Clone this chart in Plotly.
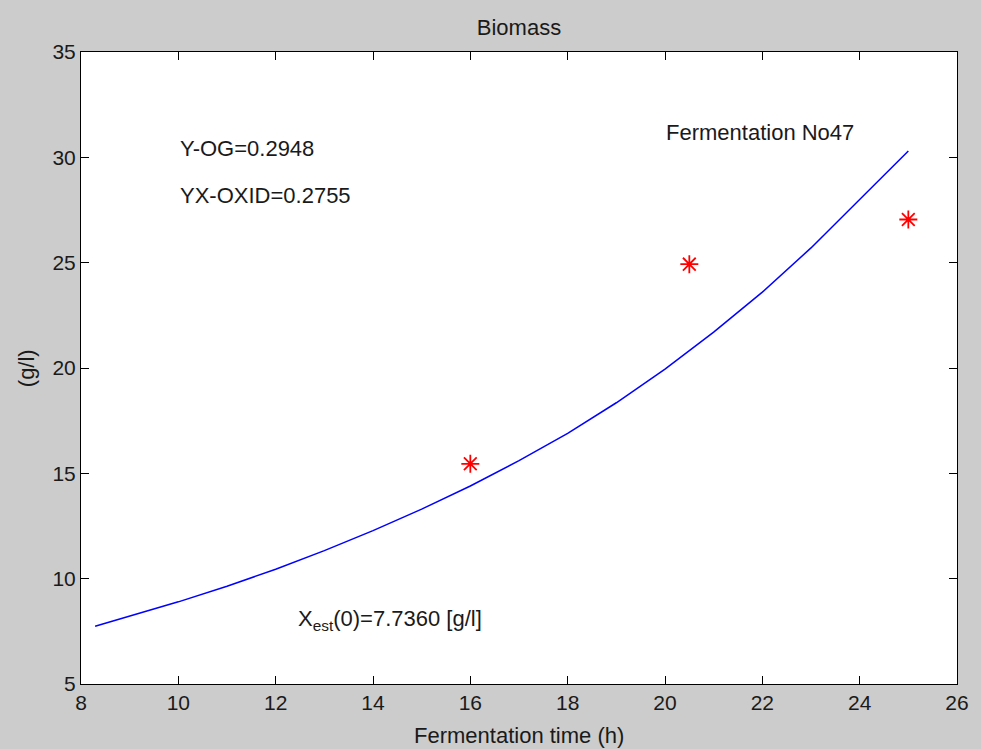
import plotly.graph_objects as go

# Fitted model curve
t_fit = [8.29, 9.0, 10.0, 11.0, 12.0, 13.0, 14.0, 15.0, 16.0, 17.0, 18.0, 19.0, 20.0, 21.0, 22.0, 23.0, 24.0, 25.0]
x_fit = [7.74, 8.22, 8.90, 9.64, 10.45, 11.33, 12.28, 13.30, 14.40, 15.60, 16.90, 18.35, 19.95, 21.70, 23.60, 25.70, 28.00, 30.3]

# Measured biomass
t_meas = [16.0, 20.5, 25.0]
x_meas = [15.45, 24.93, 27.05]

x_ticks = [8, 10, 12, 14, 16, 18, 20, 22, 24, 26]
y_ticks = [5, 10, 15, 20, 25, 30, 35]

FONT = "Liberation Sans, Arial, sans-serif"
TXT = "#1a1a1a"

fig = go.Figure()
fig.add_trace(go.Scatter(x=t_fit, y=x_fit, mode="lines", line=dict(color="#0000ff", width=1.5),
                         showlegend=False, hoverinfo="skip"))
fig.add_trace(go.Scatter(x=t_meas, y=x_meas, mode="markers",
                         marker=dict(symbol="asterisk-open", size=15, color="#ff0000", line=dict(color="#ff0000", width=1.8)),
                         showlegend=False))

axis_common = dict(showgrid=False, zeroline=False, showline=True, linecolor="black", linewidth=1,
                   ticks="inside", ticklen=8, tickcolor="black", tickwidth=1, mirror="ticks",
                   tickfont=dict(family=FONT, size=21, color=TXT))

fig.update_xaxes(range=[8, 26], tickvals=x_ticks, ticktext=[str(v) for v in x_ticks], **axis_common)
fig.update_yaxes(range=[5, 35], tickvals=y_ticks, ticktext=[str(v) for v in y_ticks], **axis_common)

ann = []
def txt(x, y, s, **kw):
    d = dict(x=x, y=y, xref="x", yref="y", text=s, showarrow=False, xanchor="left", yanchor="middle",
             font=dict(family=FONT, size=22, color=TXT))
    d.update(kw)
    ann.append(d)

txt(10.0, 30.4, "Y-OG=0.2948")
txt(10.0, 28.2, "YX-OXID=0.2755")
txt(19.97, 31.2, "Fermentation No47")
txt(12.42, 8.05, "X<sub>est</sub>(0)=7.7360 [g/l]")

ann.append(dict(x=0.5, y=-(735 - 684) / 632, xref="paper", yref="paper", text="Fermentation time (h)",
                showarrow=False, xanchor="center", yanchor="middle",
                font=dict(family=FONT, size=22, color=TXT)))
ann.append(dict(x=-(81 - 26) / 879, y=0.5, xref="paper", yref="paper", text="(g/l)", textangle=-90,
                showarrow=False, xanchor="center", yanchor="middle",
                font=dict(family=FONT, size=22, color=TXT)))

fig.update_layout(
    width=981, height=749,
    margin=dict(l=81, r=21, t=52, b=65),
    paper_bgcolor="#cccccc", plot_bgcolor="white",
    title=dict(text="Biomass", x=0.5, xref="paper", xanchor="center", y=1 - 27 / 749, yanchor="middle",
               font=dict(family=FONT, size=22, color=TXT)),
    annotations=ann,
)

fig.write_html("out.html")
